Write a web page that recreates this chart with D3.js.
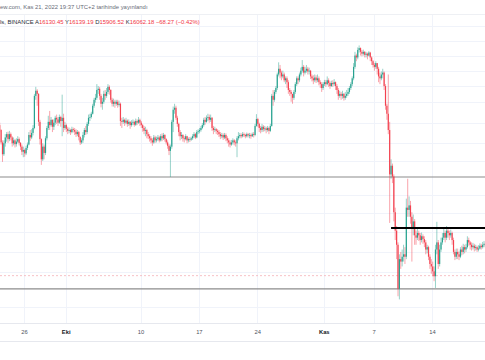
<!DOCTYPE html>
<html><head><meta charset="utf-8">
<script src="https://cdn.jsdelivr.net/npm/d3@7"></script>
<style>
html,body{margin:0;padding:0;background:#fff;}
svg{display:block;font-family:"Liberation Sans",Arial,sans-serif;}
</style>
</head><body>
<svg id="chart" width="485" height="360"></svg>
<script>
// ---------- DATA ----------
// 4h candles (chart time UTC+2), first candle opens Sep 23 02:00
const firstCandle = "2022-09-23T02:00";
const candleHours = 4;
const firstOpen = 19420;
const closes = [
19300,19000,18720,18980,19120,19200, 19080,19200,19120,18980,19050,18960,
19020,19080,18990,18900,18780,18820, 18740,18870,18950,19180,19120,19230,
19350,20150,20280,20200,19500,19080, 18600,18900,18750,19100,19350,19500,
19420,19550,19380,19480,19600,19560, 19480,19620,19520,19600,19350,19420,
19330,19280,19300,19250,19320,19300, 19260,19200,19250,19130,19000,19050,
19180,19300,19250,19450,19600,19620, 19700,19900,20050,20100,20300,20330,
20150,19950,20000,20200,20150,20250, 20380,20300,20050,19950,20000,19950,
20000,19920,19950,19520,19500,19550, 19480,19530,19450,19500,19420,19480,
19500,19430,19520,19480,19550,19480, 19420,19350,19280,19300,19200,19150,
19100,19050,19000,19120,19050,19080, 19120,19050,19150,19100,19180,19080,
19000,18920,18800,18900,19500,19800, 19850,19600,19450,19250,19150,19180,
19100,19080,19150,19050,19080,19070, 19100,19150,19200,19120,19250,19270,
19300,19350,19420,19550,19500,19600, 19620,19550,19600,19350,19300,19320,
19280,19250,19200,19150,19180,19120, 19180,19100,19050,19000,18950,19000,
19050,19000,18980,19100,19150,19180, 19150,19200,19180,19150,19200,19170,
19180,19150,19200,19180,19400,19570, 19450,19350,19300,19380,19320,19340,
19300,19350,19280,19400,20150,20050, 20250,20350,20700,20850,20750,20650,
20700,20550,20600,20500,20300,20250, 20200,20100,20250,20450,20600,20550,
20700,20800,20900,20750,20800,20850, 20780,20800,20650,20600,20550,20620,
20550,20600,20500,20450,20350,20450, 20500,20450,20550,20480,20400,20480,
20450,20500,20400,20300,20150,20200, 20150,20200,20100,20150,20200,20250,
20350,20450,20600,20900,21200,21150, 21350,21400,21300,21250,21300,21220,
21250,21200,21280,21150,21050,20950, 20900,21000,20850,20650,20600,20700,
20750,20400,19900,19700,19300,18250, 18450,18200,17400,17000,16700,15800,
16400,16350,16450,16500,16450,17500, 17450,17550,17300,17050,17200,16900,
16850,16950,16900,16800,16880,16820, 16750,16600,16650,16450,16300,16250,
16150,16050,16600,16750,16300,16600, 16750,16850,16950,16850,17000,16950,
16900,16950,16800,16550,16450,16550, 16500,16450,16600,16550,16650,16600,
16650,16800,16750,16700,16650,16680, 16630,16650,16600,16620,16680,16650,
16700,16720,16680
];
const highs = [
19480,19320,19050,19050,19200,19250, 19260,19280,19240,19150,19120,19080,
19100,19150,19120,19010,18950,18900, 18850,18920,19000,19250,19300,19320,
19420,20200,20380,20320,20220,19550, 19100,18980,18950,19150,19400,19650,
19770,19620,19560,19560,19650,19680, 19620,19680,19650,20180,19700,19500,
19460,19380,19360,19330,19380,19360, 19350,19320,19300,19280,19150,19100,
19250,19350,19400,19500,19680,19700, 19750,19950,20100,20200,20450,20400,
20380,20200,20100,20280,20300,20350, 20450,20420,20320,20100,20080,20050,
20050,20050,20030,19980,19600,19620, 19580,19600,19560,19560,19520,19540,
19560,19530,19580,19560,19620,19580, 19520,19450,19400,19380,19330,19250,
19200,19150,19100,19180,19160,19140, 19180,19160,19200,19220,19230,19200,
19100,19050,18960,18950,19550,19880, 19950,19900,19650,19480,19300,19250,
19200,19150,19200,19160,19120,19130, 19140,19200,19250,19230,19300,19320,
19350,19400,19470,19600,19620,19660, 19700,19680,19680,19620,19400,19380,
19350,19320,19300,19250,19230,19220, 19230,19220,19150,19100,19050,19060,
19100,19080,19050,19150,19250,19230, 19220,19250,19240,19210,19240,19230,
19230,19220,19240,19250,19450,19690, 19600,19480,19400,19450,19420,19400,
19380,19400,19380,19450,20200,20300, 20300,20400,20750,21020,20950,20800,
20800,20750,20650,20650,20550,20350, 20300,20200,20300,20500,20650,20650,
20750,20880,21080,20950,20900,20950, 20900,20880,20820,20700,20680,20700,
20680,20700,20650,20550,20500,20500, 20560,20560,20650,20600,20520,20540,
20550,20580,20520,20450,20350,20280, 20250,20280,20220,20250,20300,20350,
20400,20500,20650,21000,21300,21250, 21420,21473,21420,21350,21360,21320,
21300,21280,21320,21300,21180,21080, 21000,21050,21000,20900,20750,20780,
20850,20780,20450,19950,20700,19500, 18600,18500,18250,17500,17100,16750,
16500,16550,16600,16700,16650,17700, 18150,17750,17650,17400,17350,17250,
17000,17050,17000,16950,16960,16920, 16880,16800,16700,16680,16500,16400,
16350,16250,16700,17190,16800,16700, 16850,16950,17050,17000,17100,17050,
17000,17020,16980,16850,16600,16620, 16620,16560,16650,16680,16720,16700,
16720,16880,16850,16780,16750,16740, 16720,16700,16680,16690,16730,16720,
16760,16780,16760
];
const lows = [
19250,18950,18540,18680,18900,19020, 18990,19030,19050,18900,18930,18880,
18900,18980,18930,18820,18700,18650, 18660,18700,18820,18930,19040,19080,
19170,19320,20050,19900,19400,18950, 18470,18560,18600,18700,19050,19300,
19300,19380,19250,19300,19420,19450, 19400,19450,19380,19150,19250,19300,
19250,19200,19220,19180,19220,19240, 19180,19130,19150,19050,18940,18960,
18990,19120,19180,19200,19400,19520, 19580,19680,19850,19980,20050,20200,
20050,19860,19800,19950,20050,20100, 20200,20180,19980,19880,19880,19850,
19900,19850,19880,19400,19350,19450, 19400,19440,19380,19400,19330,19380,
19420,19380,19400,19420,19450,19400, 19350,19260,19200,19150,19100,19080,
19020,18980,18920,18970,18990,19000, 19040,19000,19020,19030,19060,19020,
18950,18850,18700,18190,18850,19250, 19700,19550,19380,19150,19050,19080,
19020,19000,19050,18980,19000,19010, 19040,19060,19110,19080,19100,19200,
19220,19260,19320,19380,19430,19480, 19520,19480,19500,19280,19200,19250,
19200,19180,19130,19080,19100,19060, 19080,19030,18980,18900,18880,18920,
18950,18930,18900,18650,19050,19100, 19100,19120,19130,19100,19120,19120,
19100,19090,19130,19120,19150,19380, 19380,19250,19220,19250,19260,19270,
19220,19260,19200,19250,19380,19900, 20000,20200,20300,20650,20600,20550,
20600,20500,20450,20350,20200,20150, 20000,19950,20050,20200,20400,20450,
20500,20650,20750,20650,20700,20750, 20700,20700,20580,20520,20450,20500,
20480,20500,20420,20350,20250,20300, 20400,20380,20420,20380,20330,20380,
20380,20400,20300,20200,20050,20100, 20050,20080,20030,20050,20100,20150,
20200,20300,20400,20550,20850,21050, 21100,21280,21200,21180,21200,21150,
21150,21100,21180,21050,20950,20880, 20800,20850,20700,20500,20450,20550,
20600,20300,19800,19550,19200,17166, 18150,18050,17200,16800,16400,15650,
15588,16200,16250,16350,16300,16400, 17300,17300,17150,16350,16900,16700,
16700,16800,16780,16700,16750,16720, 16650,16500,16520,16380,16200,16100,
16050,15950,15815,16500,16200,16250, 16550,16700,16800,16750,16800,16850,
16800,16850,16700,16500,16380,16400, 16400,16380,16420,16480,16500,16520,
16550,16620,16680,16600,16580,16600, 16560,16580,16550,16560,16600,16600,
16620,16650,16620
];

// time axis
const tickDates  = ["2022-09-26","2022-10-01","2022-10-10","2022-10-17","2022-10-24","2022-11-01","2022-11-07","2022-11-14"];
const tickLabels = ["26","Eki","10","17","24","Kas","7","14"];
const monthLabels = ["Eki","Kas"];

// drawn levels
const supportLevels = [18190, 15795];
const resistanceLevel = 17057;
const resistanceStart = "2022-11-09T02:00";
const lastClose = 16062.18;
const gridPrices = [22000,21600,21200,20800,20400,20000,19480,18990,18560,17780,17380,16970,16550,16140,15440,15130];

// header texts
const headerLine1 = "ew.com, Kas 21, 2022 19:37 UTC+2 tarihinde yayınlandı";
const symbolText = "ls, BINANCE";
const ohlcKeys = ["A","Y","D","K"];
const ohlcValues = ["16130.45","16139.19","15906.52","16062.18"];
const changeText = "\u221268.27 (\u22120.42%)";

// ---------- CHART ----------
const svg = d3.select("#chart");
const W = 485;
const parseT = s => new Date(s + (s.length === 10 ? "T00:00:00Z" : ":00Z"));
const t0 = parseT(firstCandle).getTime();

const candles = closes.map((c, i) => {
  const open = i === 0 ? firstOpen : closes[i - 1];
  return {
    t: new Date(t0 + i * candleHours * 3600e3),
    o: open, c: c,
    h: Math.max(highs[i], open, c),
    l: Math.min(lows[i], open, c)
  };
});

const x = d3.scaleUtc()
  .domain([parseT("2022-09-26"), parseT("2022-11-14")])
  .range([24, 432]);
const y = d3.scaleLog()
  .domain([15000, 23000])
  .range([329.9, -9.05]);

const paneTop = 14, paneBottom = 323, axisBottom = 341;

svg.append("defs").append("clipPath").attr("id", "pane")
  .append("rect").attr("x", 0).attr("y", paneTop).attr("width", W).attr("height", paneBottom - paneTop);

// grid
const grid = svg.append("g");
grid.selectAll("line.h").data(gridPrices).join("line")
  .attr("x1", 0).attr("x2", W)
  .attr("y1", d => Math.round(y(d)) + 0.5).attr("y2", d => Math.round(y(d)) + 0.5)
  .attr("stroke", "#f0f3fa").attr("stroke-width", 1);
grid.selectAll("line.v").data(tickDates).join("line")
  .attr("x1", d => Math.round(x(parseT(d))) + 0.5).attr("x2", d => Math.round(x(parseT(d))) + 0.5)
  .attr("y1", paneTop).attr("y2", paneBottom)
  .attr("stroke", "#f0f3fa").attr("stroke-width", 1);

// borders
[paneTop, paneBottom, axisBottom].forEach(v => {
  svg.append("line").attr("x1", 0).attr("x2", W).attr("y1", v + 0.5).attr("y2", v + 0.5)
    .attr("stroke", v === paneTop ? "#eef0f4" : "#e6e8ee").attr("stroke-width", 1);
});

const pane = svg.append("g").attr("clip-path", "url(#pane)");

// last price dashed line
pane.append("line")
  .attr("x1", 0).attr("x2", W)
  .attr("y1", y(lastClose)).attr("y2", y(lastClose))
  .attr("stroke", "#f5b3b8").attr("stroke-opacity", 0.8).attr("stroke-width", 1).attr("stroke-dasharray", "2,2");

// support lines
pane.selectAll("line.sup").data(supportLevels).join("line")
  .attr("x1", 0).attr("x2", W)
  .attr("y1", d => y(d)).attr("y2", d => y(d))
  .attr("stroke", "#8c8c8c").attr("stroke-width", 1.2);

// candles
const up = "#1a9c88", down = "#f23645";
const cg = pane.append("g");
cg.selectAll("line.wick").data(candles).join("line")
  .attr("x1", d => x(d.t)).attr("x2", d => x(d.t))
  .attr("y1", d => y(d.h)).attr("y2", d => y(d.l))
  .attr("stroke", d => d.c >= d.o ? up : down)
  .attr("stroke-opacity", 0.45).attr("stroke-width", 1);
cg.selectAll("rect.body").data(candles).join("rect")
  .attr("x", d => x(d.t) - 0.6)
  .attr("width", 1.2)
  .attr("y", d => y(Math.max(d.o, d.c)))
  .attr("height", d => Math.max(0.8, Math.abs(y(d.o) - y(d.c))))
  .attr("fill", d => d.c >= d.o ? up : down)
  .attr("fill-opacity", 0.9);

// resistance line
pane.append("line")
  .attr("x1", x(parseT(resistanceStart))).attr("x2", W)
  .attr("y1", y(resistanceLevel)).attr("y2", y(resistanceLevel))
  .attr("stroke", "#000").attr("stroke-width", 1.8);

// x axis
const axis = d3.axisBottom(x)
  .tickValues(tickDates.map(parseT))
  .tickFormat((d, i) => tickLabels[i])
  .tickSize(0).tickPadding(0);
const ax = svg.append("g").attr("transform", `translate(0,${330})`).call(axis);
ax.select(".domain").remove();
ax.selectAll("text")
  .attr("font-size", 5.8)
  .attr("font-family", "'Liberation Sans',Arial,sans-serif")
  .attr("font-weight", (d, i) => monthLabels.includes(tickLabels[i]) ? "bold" : "normal")
  .attr("fill", (d, i) => monthLabels.includes(tickLabels[i]) ? "#131722" : "#50535e");

// header
svg.append("text").attr("x", 0).attr("y", 9)
  .attr("font-size", 5.9).attr("fill", "#6a6d78").text(headerLine1);

const hdr = svg.append("text").attr("x", 0).attr("y", 24).attr("font-size", 5.9);
hdr.append("tspan").attr("fill", "#2a2e39").text(symbolText + "  ");
ohlcKeys.forEach((k, i) => {
  hdr.append("tspan").attr("fill", "#2a2e39").text(" " + k);
  hdr.append("tspan").attr("fill", down).text(ohlcValues[i] + " ");
});
hdr.append("tspan").attr("fill", down).text(" " + changeText);
</script>
</body></html>
